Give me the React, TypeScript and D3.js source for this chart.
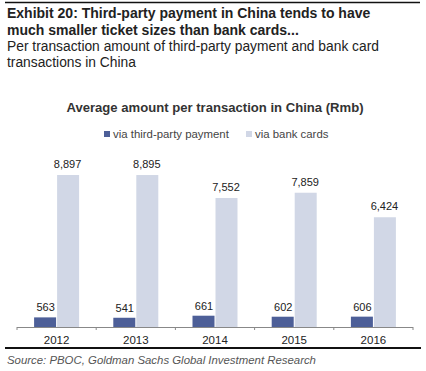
import React from 'react';
import * as d3 from 'd3';

const years = ['2012', '2013', '2014', '2015', '2016'];
const thirdParty = [563, 541, 661, 602, 606];
const bankCards = [8897, 8895, 7552, 7859, 6424];
const seriesNames = ['via third-party payment', 'via bank cards'];

const W = 426;
const H = 371;
const colors = ['#4d5f98', '#d1d7e6'];
const font = '"Liberation Sans", Arial, sans-serif';

export default function App() {
  const x = d3.scaleBand().domain(years).range([17, 413]);
  const y = d3.scaleLinear().domain([0, 8897]).range([327, 175]);
  const fmt = d3.format(',');
  const barW = 22;

  const rows = years.map((yr, i) => ({ yr, a: thirdParty[i], b: bankCards[i] }));

  return (
    <svg width={W} height={H} style={{ position: 'absolute', left: 0, top: 0, background: '#fff' }} fontFamily={font}>
      <line x1={5} x2={420} y1={2.5} y2={2.5} stroke="#111" strokeWidth={1.5} />
      <text x={7} y={18} fontSize={14} fontWeight="bold" fill="#222">Exhibit 20: Third-party payment in China tends to have</text>
      <text x={7} y={35} fontSize={14} fontWeight="bold" fill="#222">much smaller ticket sizes than bank cards...</text>
      <text x={7} y={51} fontSize={13.8} fill="#222">Per transaction amount of third-party payment and bank card</text>
      <text x={7} y={67} fontSize={13.8} fill="#222">transactions in China</text>

      <text x={215} y={112} fontSize={13.1} fontWeight="bold" fill="#333" textAnchor="middle">
        Average amount per transaction in China (Rmb)
      </text>

      <g fontSize={11.4} fill="#444">
        <rect x={104} y={131} width={6} height={6} fill={colors[0]} />
        <text x={113} y={138}>{seriesNames[0]}</text>
        <rect x={246} y={131} width={6} height={6} fill={colors[1]} />
        <text x={255} y={138}>{seriesNames[1]}</text>
      </g>

      {rows.map(d => {
        const cx = x(d.yr)! + x.bandwidth() / 2;
        return (
          <g key={d.yr}>
            <rect x={cx - barW - 0.5} y={y(d.a)} width={barW} height={y(0) - y(d.a)} fill={colors[0]} />
            <rect x={cx + 0.5} y={y(d.b)} width={barW} height={y(0) - y(d.b)} fill={colors[1]} />
            <text x={cx - barW / 2} y={y(d.a) - 6} fontSize={11} fill="#222" textAnchor="middle">{fmt(d.a)}</text>
            <text x={cx + barW / 2} y={y(d.b) - 7} fontSize={11} fill="#222" textAnchor="middle">{fmt(d.b)}</text>
            <text x={cx} y={344} fontSize={11.5} fill="#222" textAnchor="middle">{d.yr}</text>
          </g>
        );
      })}
      <line x1={17} x2={413} y1={327.5} y2={327.5} stroke="#888" strokeWidth={1} />
      {years.map(yr => (
        <line key={yr} x1={x(yr)!} x2={x(yr)!} y1={327} y2={330} stroke="#888" />
      ))}
      <line x1={413} x2={413} y1={327} y2={330} stroke="#888" />

      <line x1={5} x2={421} y1={348} y2={348} stroke="#111" strokeWidth={2} />
      <text x={7} y={364} fontSize={11.4} fontStyle="italic" fill="#555">
        Source: PBOC, Goldman Sachs Global Investment Research
      </text>
    </svg>
  );
}
